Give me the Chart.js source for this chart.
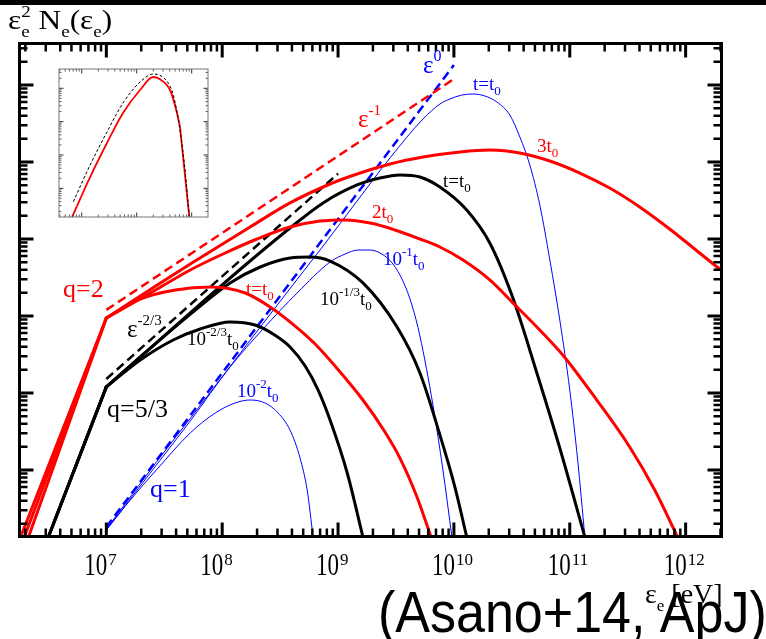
<!DOCTYPE html>
<html>
<head>
<meta charset="utf-8">
<script src="https://cdn.jsdelivr.net/npm/chart.js@4.4.1/dist/chart.umd.min.js"></script>
<style>
  html, body { margin: 0; padding: 0; background: #fff; }
  #wrap { position: relative; width: 766px; height: 639px; overflow: hidden; background: #fff; }
  #topbar { position: absolute; left: 0; top: 0; width: 766px; height: 5px; background: #000; }
  canvas { position: absolute; left: 0; top: 0; }
</style>
</head>
<body>
<div id="wrap">
  <div id="topbar"></div>
  <canvas id="main" width="766" height="639"></canvas>
  <canvas id="inset" width="766" height="639"></canvas>
</div>
<script>
// Electron spectra eps_e^2 N_e(eps_e): energy in eV, spectrum in arbitrary units.

// q = 2 (red): t = t0, 2 t0, 3 t0
const redT1E = [2.13e6, 1e7, 1.96e7, 3.94e7, 7.88e7, 1.58e8, 2.59e8, 4.26e8, 6.34e8, 9.42e8, 1.64e9, 2.54e9, 3.42e9, 4.80e9, 6.34e9];
const redT1Y = [1.35, 942, 1660, 2180, 2380, 1990, 1310, 741, 433, 224, 81.1, 31.2, 14.3, 4.46, 1.35];
const redT2E = [1.96e6, 1e7, 2.75e7, 5.30e7, 1.06e8, 2.00e8, 3.85e8, 7.00e8, 1.15e9, 1.89e9, 3.10e9, 5.09e9, 7.57e9, 1.20e10, 2.04e10, 3.23e10, 5.51e10, 8.70e10, 1.71e11, 3.29e11, 5.41e11, 8.53e11];
const redT2Y = [1.35, 942, 2240, 3960, 6580, 10000, 14300, 17100, 17700, 16100, 13100, 10000, 7870, 5330, 2940, 1480, 658, 312, 81.1, 19.9, 5.50, 1.35];
const redT3E = [1.82e6, 1e7, 2.75e7, 5.30e7, 1.74e8, 3.85e8, 8.53e8, 1.46e9, 2.81e9, 5.41e9, 1.13e10, 2.04e10, 3.71e10, 6.73e10, 1.22e11, 2.21e11, 4.01e11, 7.28e11, 1.32e12, 2.39e12];
const redT3Y = [1.35, 942, 2530, 4730, 14300, 29400, 51800, 69800, 94200, 116000, 135000, 143000, 131000, 103000, 71900, 45900, 26100, 13500, 6580, 3210];

// q = 5/3 (black): t = 10^-2/3 t0, 10^-1/3 t0, t0
const blkA_E = [3.16e6, 1e7, 1.96e7, 3.78e7, 6.46e7, 1.17e8, 1.92e8, 2.75e8, 3.85e8, 5.20e8, 6.73e8, 8.53e8, 1.20e9, 1.64e9];
const blkA_Y = [1.35, 120, 268, 488, 678, 836, 764, 583, 396, 224, 109, 44.6, 9.14, 1.35];
const blkB_E = [3.16e6, 1e7, 2.75e7, 6.46e7, 1.17e8, 2.13e8, 3.85e8, 5.74e8, 8.53e8, 1.64e9, 3.23e9, 5.09e9, 7.57e9, 1.02e10, 1.29e10];
const blkB_Y = [1.35, 120, 459, 1350, 2690, 4330, 5660, 5830, 5180, 2690, 719, 182, 28.5, 6.01, 1.35];
const blkC_E = [3.16e6, 1e7, 2.75e7, 6.46e7, 1.74e8, 3.85e8, 7.43e8, 1.46e9, 2.30e9, 3.42e9, 5.09e9, 7.57e9, 1.29e10, 2.04e10, 3.23e10, 5.20e10, 8.20e10, 1.35e11];
const blkC_Y = [1.35, 120, 459, 1430, 5180, 13900, 29400, 50300, 61900, 67800, 63800, 47300, 23800, 8870, 1710, 182, 19.3, 1.35];

// q = 1 (blue): t = 10^-2 t0, 10^-1 t0, t0
const bluA_E = [1e7, 1.61e7, 2.75e7, 5.30e7, 8.71e7, 1.29e8, 1.74e8, 2.35e8, 3.04e8, 3.85e8, 4.70e8, 5.41e8, 6.09e8];
const bluA_Y = [1.66, 4.08, 10.3, 30.3, 55.0, 74.1, 81.1, 74.1, 55.0, 33.0, 14.3, 5.50, 1.35];
const bluB_E = [1e7, 2.75e7, 5.30e7, 1.17e8, 2.25e8, 4.43e8, 8.53e8, 1.15e9, 1.49e9, 1.89e9, 2.39e9, 2.98e9, 3.63e9, 4.34e9, 5.09e9, 6.59e9, 8.04e9, 9.61e9];
const bluB_Y = [1.66, 12.0, 43.3, 218, 678, 1990, 5020, 6380, 7190, 7190, 6380, 4730, 2850, 1390, 550, 69.8, 10.0, 1.35];
const bluC_E = [1e7, 2.75e7, 5.30e7, 1.17e8, 2.25e8, 4.43e8, 7.43e8, 1.46e9, 2.81e9, 5.41e9, 7.57e9, 9.24e9, 1.17e10, 1.46e10, 1.85e10, 2.35e10, 3.04e10, 3.71e10, 4.52e10, 5.51e10, 6.73e10, 8.20e10, 1.00e11, 1.17e11, 1.35e11];
const bluC_Y = [1.71, 13.1, 46.7, 221, 800, 2980, 8110, 31200, 113000, 362000, 566000, 658000, 741000, 764000, 720000, 601000, 407000, 211000, 91400, 27700, 5330, 887, 109, 13.5, 1.35];

// power-law guides
const guideRedE = [1e7, 1e10];   const guideRedY = [1200, 1.2e6];     // eps^-1
const guideBlkE = [1e7, 1e9];    const guideBlkY = [152, 70560];      // eps^-2/3
const guideBluE = [1e7, 1e10];   const guideBluY = [1.82, 1.82e6];    // eps^0

// inset: spectrum vs. reference (dashed)
const insetRedE  = [0.667, 1.42, 2.88, 5.63, 11.5, 20.0, 26.5, 40.3, 53.3, 61.2, 90.4];
const insetRedY  = [0.138, 2.18, 22.9, 181.6, 889, 2183, 1862, 889, 198.6, 70.5, 0.141];
const insetDashE = [0.703, 1.42, 2.88, 5.63, 11.5, 20.0, 35.1, 46.3, 61.2, 75.5, 90.4];
const insetDashY = [0.396, 5.0, 48.9, 362, 1545, 2685, 1656, 630, 56.1, 3.54, 0.141];

// x-axis tick labels (powers of ten)
const xTickExps = [7, 8, 9, 10, 11, 12];

const RED = '#ff0000', BLK = '#000000', BLU = '#0000ff';
const SERIF = '"Liberation Serif", "Times New Roman", serif';

function pts(E, Y, from, to) {
  const out = [];
  for (let i = from; i <= to; i++) out.push({ x: E[i], y: Y[i] });
  return out;
}

// datasets listed in drawing order (first = bottom)
const drawList = [];
function curve(list, E, Y, color, width, breakAt) {
  const common = { borderColor: color, borderWidth: width, pointRadius: 0, fill: false,
                   borderCapStyle: 'round', borderJoinStyle: 'round' };
  if (breakAt) list.push(Object.assign({ data: pts(E, Y, 0, breakAt), tension: 0 }, common));
  list.push(Object.assign({ data: pts(E, Y, breakAt || 0, E.length - 1), cubicInterpolationMode: 'monotone' }, common));
}
function guide(list, E, Y, color, width, dash) {
  list.push({ data: pts(E, Y, 0, E.length - 1), borderColor: color, borderWidth: width,
              borderDash: dash, pointRadius: 0, tension: 0, fill: false });
}

curve(drawList, bluA_E, bluA_Y, BLU, 1, 0);
curve(drawList, bluB_E, bluB_Y, BLU, 1, 0);
curve(drawList, bluC_E, bluC_Y, BLU, 1, 0);
guide(drawList, guideBluE, guideBluY, BLU, 2.5, [9, 5]);
curve(drawList, blkA_E, blkA_Y, BLK, 3, 1);
curve(drawList, blkB_E, blkB_Y, BLK, 3, 1);
curve(drawList, blkC_E, blkC_Y, BLK, 3, 1);
guide(drawList, guideBlkE, guideBlkY, BLK, 2.5, [9, 5]);
curve(drawList, redT1E, redT1Y, RED, 3, 1);
curve(drawList, redT2E, redT2Y, RED, 3, 1);
curve(drawList, redT3E, redT3Y, RED, 3, 1);
guide(drawList, guideRedE, guideRedY, RED, 2.5, [9, 5]);
drawList.forEach((d, i) => { d.order = drawList.length - i; });

// boxed frame with inward log ticks on all four sides
function frameTicks(id, o) {
  return {
    id,
    afterDatasetsDraw(chart) {
      const { ctx, chartArea: a, scales: { x, y } } = chart;
      ctx.save();
      ctx.strokeStyle = o.tickColor;
      ctx.lineCap = 'butt';
      const each = (scale, fn) => {
        const lo = Math.floor(Math.log10(scale.min)), hi = Math.ceil(Math.log10(scale.max));
        for (let p = lo; p <= hi; p++) for (let m = 1; m <= 9; m++) {
          const v = m * Math.pow(10, p);
          if (v < scale.min || v > scale.max) continue;
          fn(scale.getPixelForValue(v), m === 1);
        }
      };
      each(x, (px, major) => {
        const len = major ? o.major : o.minor;
        ctx.lineWidth = major ? o.majorW : o.minorW;
        ctx.beginPath();
        ctx.moveTo(px, a.bottom); ctx.lineTo(px, a.bottom - len);
        ctx.moveTo(px, a.top); ctx.lineTo(px, a.top + len);
        ctx.stroke();
      });
      each(y, (py, major) => {
        const len = major ? o.major : o.minor;
        ctx.lineWidth = major ? o.majorW : o.minorW;
        ctx.beginPath();
        ctx.moveTo(a.left, py); ctx.lineTo(a.left + len, py);
        ctx.moveTo(a.right, py); ctx.lineTo(a.right - len, py);
        ctx.stroke();
      });
      ctx.strokeStyle = o.frameColor;
      ctx.lineWidth = o.frameW;
      ctx.strokeRect(a.left, a.top, a.right - a.left, a.bottom - a.top);
      ctx.restore();
    }
  };
}

function drawRich(ctx, x, y, parts, size, color, font, scriptRatio) {
  const r = scriptRatio || 0.68;
  let cx = x;
  ctx.fillStyle = color;
  ctx.textBaseline = 'alphabetic';
  ctx.textAlign = 'left';
  for (const p of parts) {
    if (typeof p === 'string') {
      ctx.font = size + 'px ' + font;
      ctx.fillText(p, cx, y);
      cx += ctx.measureText(p).width;
    } else {
      const s = Math.round(size * r);
      ctx.font = s + 'px ' + font;
      if (p[0] === '^') {
        ctx.fillText(p[1], cx, y - size * 0.5);
        cx += ctx.measureText(p[1]).width;
      } else if (p[0] === '_') {
        ctx.fillText(p[1], cx, y + size * 0.28);
        cx += ctx.measureText(p[1]).width;
      } else {
        ctx.fillText(p[1], cx, y + size * 0.28);
        ctx.fillText(p[2], cx, y - size * 0.42);
        cx += Math.max(ctx.measureText(p[1]).width, ctx.measureText(p[2]).width);
      }
    }
  }
  return cx;
}

// curve annotations (pixel anchors, baseline-left)
const notes = [
  { x: 63,  y: 297, c: RED, s: 26, t: ['q=2'] },
  { x: 107, y: 417, c: BLK, s: 26, t: ['q=5/3'] },
  { x: 150, y: 497, c: BLU, s: 26, t: ['q=1'] },
  { x: 127, y: 337, c: BLK, s: 25, t: ['\u03b5', ['^', '-2/3']], r: 0.6 },
  { x: 187, y: 345, c: BLK, s: 19, t: ['10', ['^', '-2/3'], 't', ['_', '0']] },
  { x: 246, y: 295, c: RED, s: 19, t: ['t=t', ['_', '0']] },
  { x: 237, y: 397, c: BLU, s: 19, t: ['10', ['^', '-2'], 't', ['_', '0']] },
  { x: 320, y: 305, c: BLK, s: 19, t: ['10', ['^', '-1/3'], 't', ['_', '0']] },
  { x: 383, y: 265, c: BLU, s: 19, t: ['10', ['^', '-1'], 't', ['_', '0']] },
  { x: 372, y: 218, c: RED, s: 19, t: ['2t', ['_', '0']] },
  { x: 443, y: 187, c: BLK, s: 19, t: ['t=t', ['_', '0']] },
  { x: 537, y: 152, c: RED, s: 19, t: ['3t', ['_', '0']] },
  { x: 473, y: 90,  c: BLU, s: 19, t: ['t=t', ['_', '0']] },
  { x: 423, y: 73,  c: BLU, s: 25, t: ['\u03b5', ['^', '0']], r: 0.64 },
  { x: 358, y: 127, c: RED, s: 25, t: ['\u03b5', ['^', '-1']], r: 0.6 }
];

const textLayer = {
  id: 'textLayer',
  afterDraw(chart) {
    const { ctx, scales: { x } } = chart;
    ctx.save();
    // citation
    ctx.save();
    ctx.translate(378, 632);
    ctx.scale(1, 1.12);
    ctx.fillStyle = '#000';
    ctx.font = '52px "Liberation Sans", Arial, sans-serif';
    ctx.fillText('(Asano+14, ApJ)', 0, 0);
    ctx.restore();
    // x-axis title
    drawRich(ctx, 645, 603, ['\u03b5', ['_', 'e'], ' [eV]'], 28, '#000', SERIF, 0.62);
    // x tick labels
    for (const e of xTickExps) {
      const xm = x.getPixelForValue(Math.pow(10, e));
      ctx.save();
      ctx.fillStyle = '#000';
      ctx.font = '23px ' + SERIF;
      const w = ctx.measureText('10').width;
      ctx.translate(xm + 1 - w, 575);
      ctx.scale(1, 1.35);
      ctx.fillText('10', 0, 0);
      ctx.restore();
      ctx.fillStyle = '#000';
      ctx.font = '17px ' + SERIF;
      ctx.fillText(String(e), xm + 2, 565);
    }
    // y-axis title
    ctx.save();
    ctx.translate(8, 29);
    ctx.scale(1.12, 1);
    drawRich(ctx, 0, 0, ['\u03b5', ['s', 'e', '2'], ' N', ['_', 'e'], '(\u03b5', ['_', 'e'], ')'], 28, '#000', SERIF, 0.62);
    ctx.restore();
    // annotations
    for (const n of notes) drawRich(ctx, n.x, n.y, n.t, n.s, n.c, SERIF, n.r);
    ctx.restore();
  }
};

new Chart(document.getElementById('main'), {
  type: 'line',
  data: { datasets: drawList },
  options: {
    responsive: false,
    animation: false,
    devicePixelRatio: 1,
    layout: { padding: { left: 19.5, top: 43.5, right: 44.5, bottom: 102.5 } },
    scales: {
      x: { type: 'logarithmic', min: 1.78e6, max: 2.04e12, display: false },
      y: { type: 'logarithmic', min: 1.369, max: 3.46e6, display: false }
    },
    plugins: { legend: { display: false }, tooltip: { enabled: false } }
  },
  plugins: [
    frameTicks('mainFrame', { major: 14, minor: 8, majorW: 3, minorW: 2.5, frameW: 3, tickColor: '#000', frameColor: '#000' }),
    textLayer
  ]
});

// inset panel
const insetList = [];
guide(insetList, insetDashE, insetDashY, '#000', 1, [3, 2]);
insetList[0].cubicInterpolationMode = 'monotone';
insetList.push({ data: pts(insetRedE, insetRedY, 0, 9), borderColor: RED, borderWidth: 1.8, pointRadius: 0, cubicInterpolationMode: 'monotone' });
insetList.push({ data: pts(insetRedE, insetRedY, 9, 10), borderColor: RED, borderWidth: 1.8, pointRadius: 0, tension: 0 });

new Chart(document.getElementById('inset'), {
  type: 'line',
  data: { datasets: insetList },
  options: {
    responsive: false,
    animation: false,
    devicePixelRatio: 1,
    layout: { padding: { left: 59, top: 69, right: 558, bottom: 422 } },
    scales: {
      x: { type: 'logarithmic', min: 0.386, max: 198, display: false },
      y: { type: 'logarithmic', min: 0.1377, max: 3793, display: false }
    },
    plugins: { legend: { display: false }, tooltip: { enabled: false } }
  },
  plugins: [
    frameTicks('insetFrame', { major: 4.5, minor: 2.5, majorW: 1, minorW: 0.8, frameW: 1, tickColor: '#333', frameColor: '#777' })
  ]
});
</script>
</body>
</html>
